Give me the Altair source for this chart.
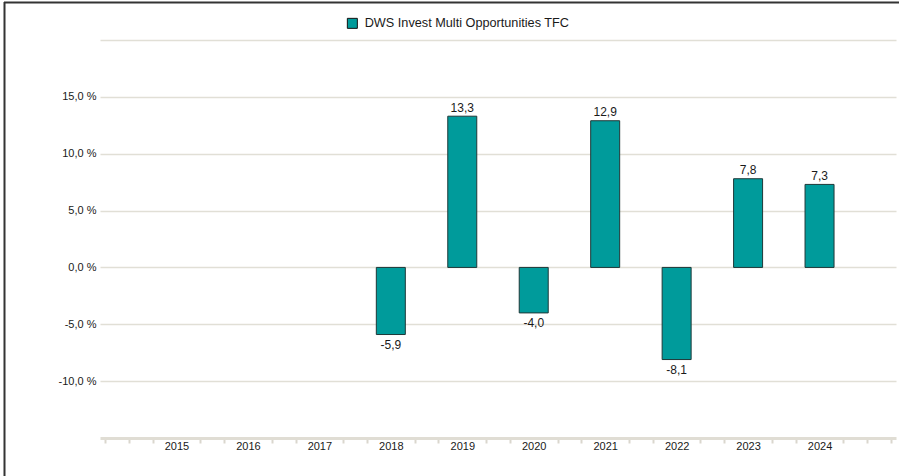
import altair as alt
import pandas as pd

# ---- data ----
years = [2015, 2016, 2017, 2018, 2019, 2020, 2021, 2022, 2023, 2024]
returns = [None, None, None, -5.9, 13.3, -4.0, 12.9, -8.1, 7.8, 7.3]
series_name = "DWS Invest Multi Opportunities TFC"
y_tick_values = [-10, -5, 0, 5, 10, 15, 20]
x_tick_values = [2014 + i / 3 for i in range(34)]

df = pd.DataFrame({"year": years, "value": returns, "series": series_name}).dropna()
df["label"] = df["value"].map(lambda v: f"{v:.1f}".replace(".", ","))

FONT = "Liberation Sans"
TEAL = "#009b9b"
EDGE = "#1e3838"
GRID = "#e1dfd6"

is_year_label = "abs(datum.value - round(datum.value)) < 0.01 && datum.value > 2014.5 && datum.value < 2024.5"

x_enc = alt.X(
    "year:Q",
    title=None,
    scale=alt.Scale(domain=[2014, 2025], nice=False, zero=False),
    axis=alt.Axis(
        values=x_tick_values,
        labelExpr=f"{is_year_label} ? format(round(datum.value), 'd') : ''",
        labelOverlap=False,
        labelFlush=False,
        labelBound=False,
        labelFontSize=11,
        labelColor="#1a1a1a",
        labelFont=FONT,
        labelPadding=-3,
        grid=False,
        domainColor="#e0ddd4",
        domainWidth=3,
        tickColor={"condition": {"test": is_year_label, "value": "transparent"}, "value": "#dad7ce"},
        tickSize=5,
        tickWidth=2,
    ),
)

y_enc = alt.Y(
    "value:Q",
    title=None,
    scale=alt.Scale(domain=[-15, 20], nice=False, zero=False),
    axis=alt.Axis(
        values=y_tick_values,
        labelExpr="datum.value >= 20 ? '' : replace(replace(format(datum.value, '.1f'), '.', ','), '\u2212', '-') + ' %'",
        labelFontSize=11,
        labelColor="#1a1a1a",
        labelFont=FONT,
        labelPadding=4,
        domain=False,
        ticks=False,
        grid=True,
        gridColor=GRID,
        gridWidth=1.6,
    ),
)

base = alt.Chart(df).encode(x=x_enc, y=y_enc)

bars = base.mark_bar(size=29, stroke=EDGE, strokeWidth=1).encode(
    y2=alt.datum(0),
    color=alt.Color(
        "series:N",
        title=None,
        scale=alt.Scale(range=[TEAL]),
        legend=alt.Legend(
            orient="none",
            legendX=246,
            legendY=-23,
            symbolType="square",
            symbolSize=100,
            symbolStrokeColor="#111111",
            symbolStrokeWidth=1,
            labelFontSize=12.7,
            labelFont=FONT,
            labelColor="#1a1a1a",
            labelOffset=6,
            padding=0,
            labelLimit=400,
        ),
    ),
)

pos_labels = base.transform_filter("datum.value >= 0").mark_text(
    dy=-4.5, baseline="alphabetic", fontSize=12, font=FONT, color="#1a1a1a"
).encode(text="label:N")

neg_labels = base.transform_filter("datum.value < 0").mark_text(
    dy=5, baseline="top", fontSize=12, font=FONT, color="#1a1a1a"
).encode(text="label:N")

frame_df = pd.DataFrame({"k": [0]})
left_border = alt.Chart(frame_df).mark_rule(color="#333333", strokeWidth=2).encode(
    x=alt.value(-95.5), y=alt.value(-38), y2=alt.value(436)
)
top_border = alt.Chart(frame_df).mark_rule(color="#333333", strokeWidth=2).encode(
    x=alt.value(-96), x2=alt.value(799), y=alt.value(-37.5)
)

chart = (
    alt.layer(bars, pos_labels, neg_labels, left_border, top_border)
    .properties(
        width=796,
        height=398,
        autosize=alt.AutoSizeParams(type="none"),
        padding={"left": 100, "top": 40, "right": 3, "bottom": 38},
        background="white",
    )
    .configure(font=FONT)
    .configure_view(stroke="transparent", strokeWidth=0)
)

chart.save("out.html", embed_options={"renderer": "svg", "actions": False})
